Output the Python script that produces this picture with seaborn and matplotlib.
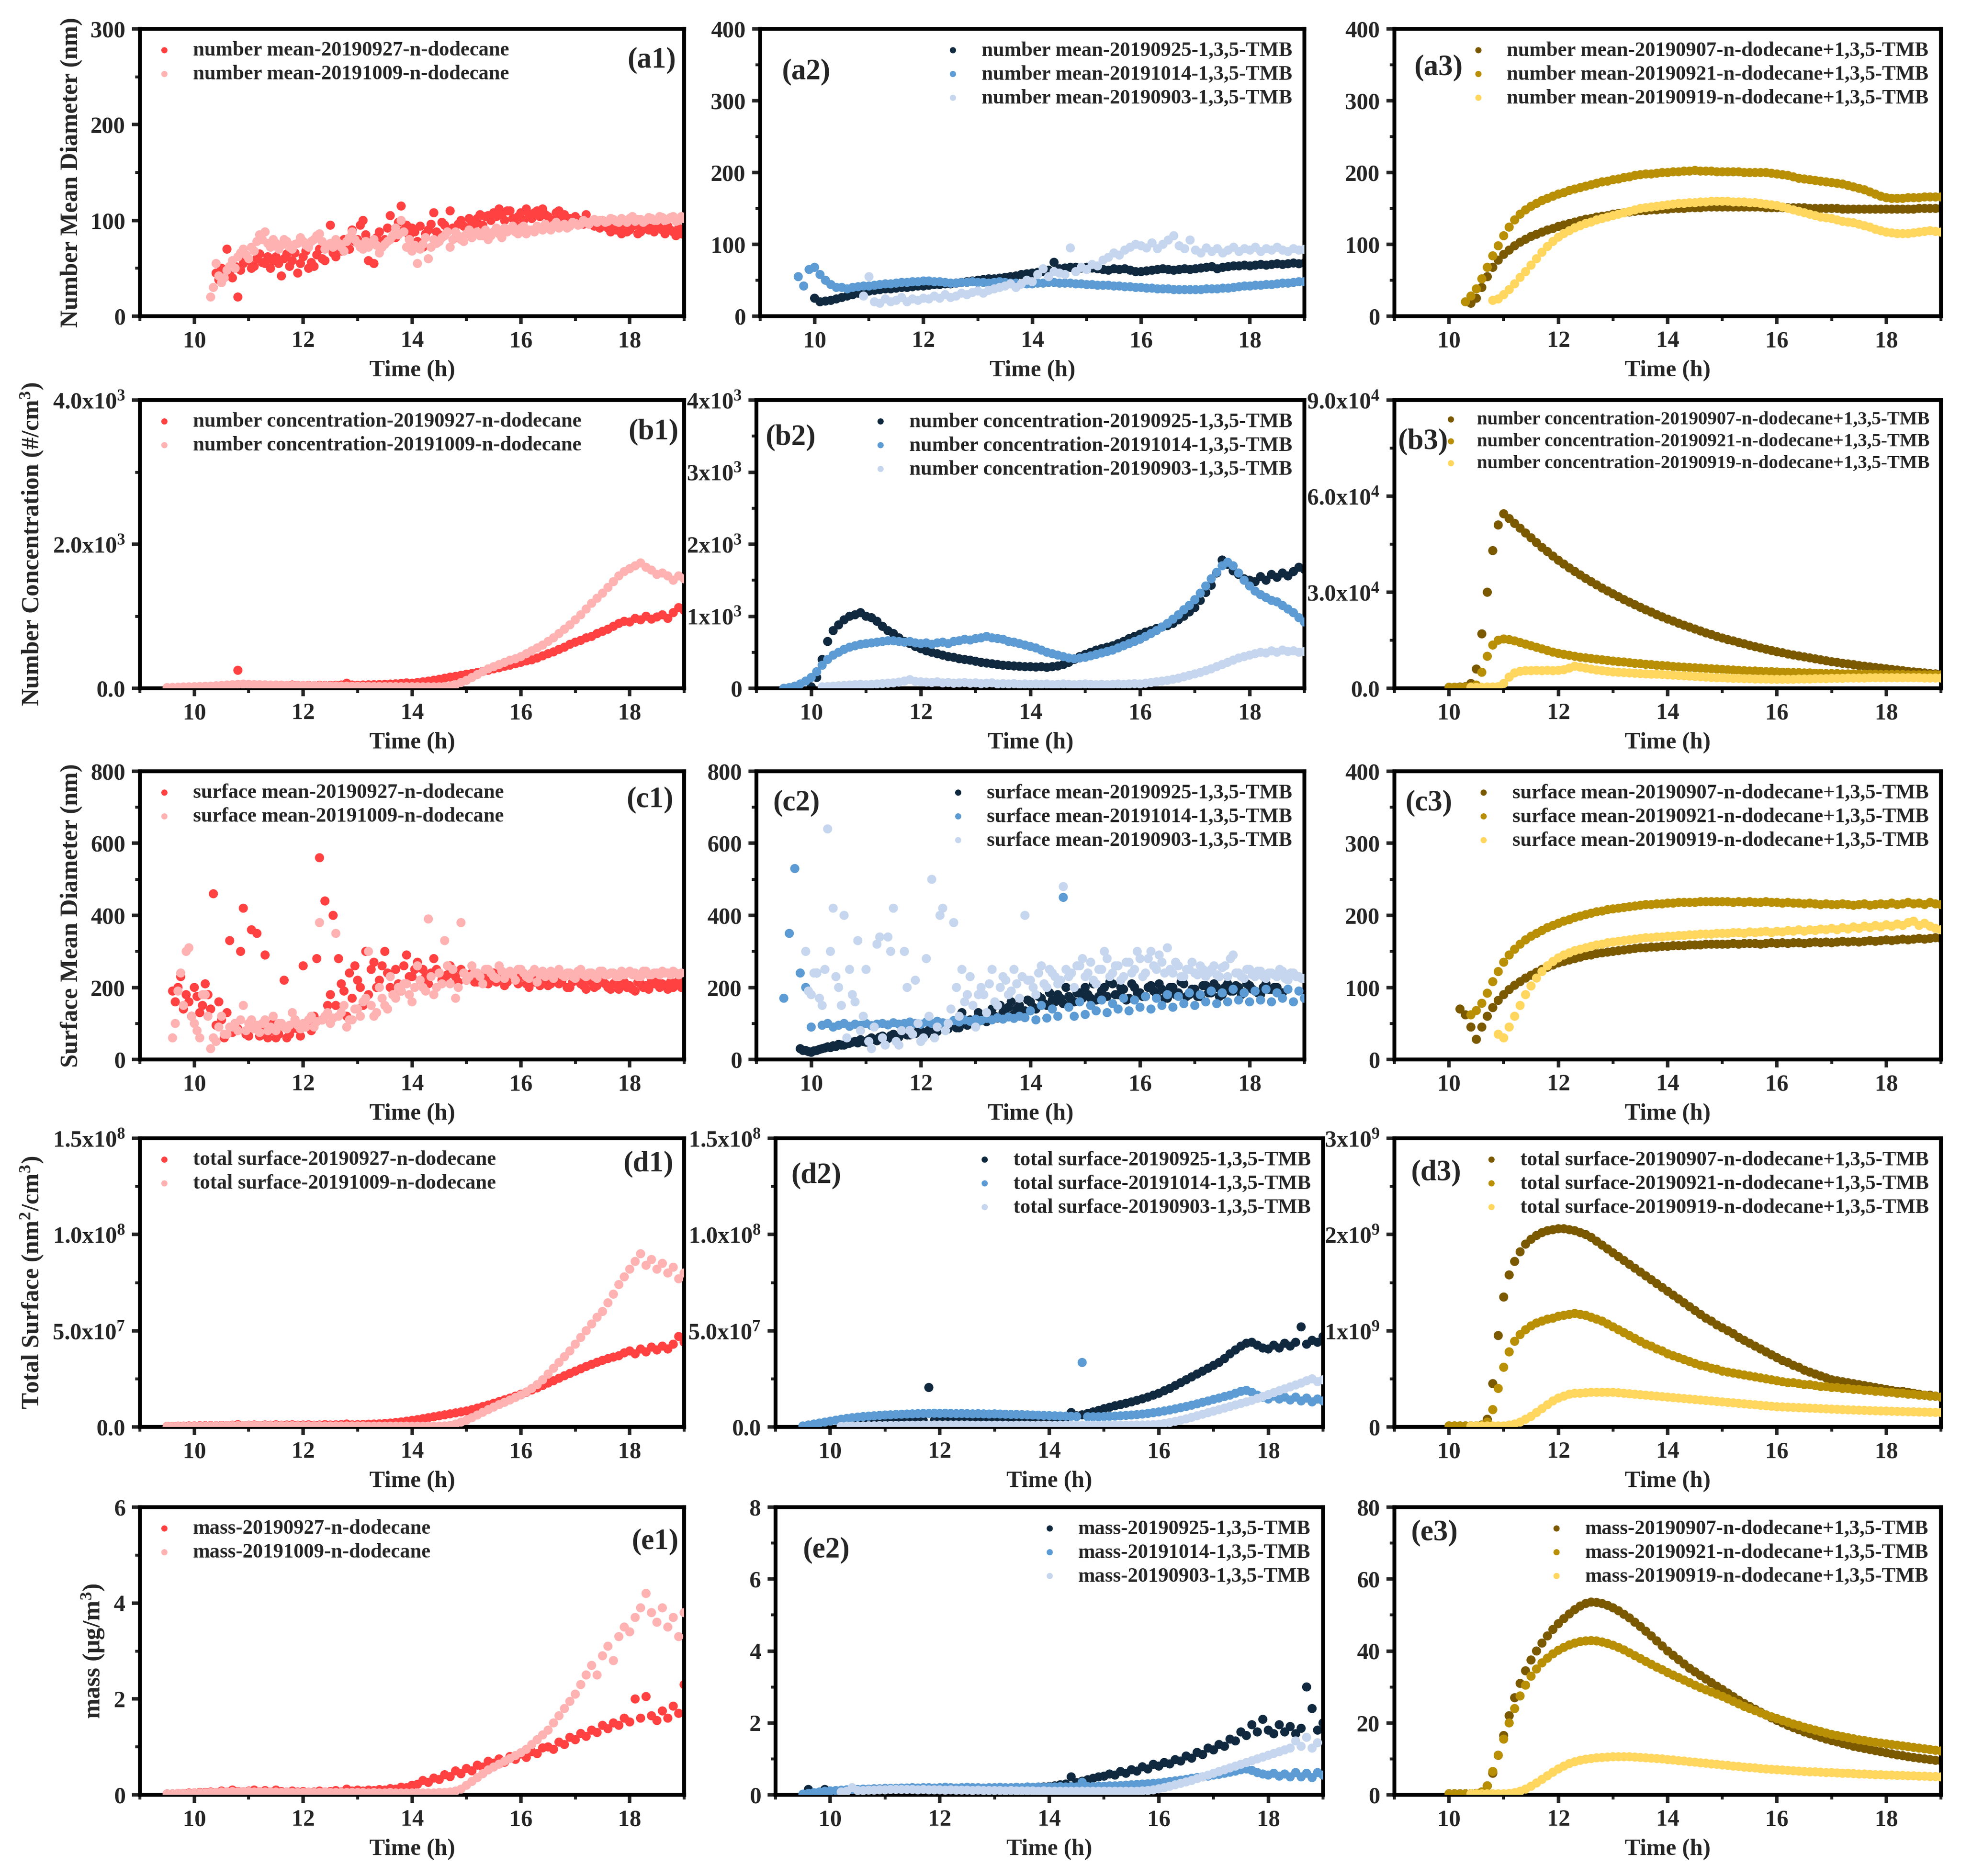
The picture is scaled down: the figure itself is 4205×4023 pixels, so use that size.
import numpy as np
import matplotlib
matplotlib.use('Agg')
import matplotlib.pyplot as plt
from matplotlib.ticker import FixedLocator, FixedFormatter, AutoMinorLocator, MultipleLocator
import seaborn as sns

# ---------------- data ----------------
STEP = 0.1         # sampling interval in hours (most runs)
STEP_FINE = 0.05   # sampling interval of the densely scanned runs

ROW_PREFIX = ['number mean', 'number concentration', 'surface mean', 'total surface', 'mass']
TAGS_C1 = ['20190927-n-dodecane', '20191009-n-dodecane']
TAGS_C2 = ['20190925-1,3,5-TMB', '20191014-1,3,5-TMB', '20190903-1,3,5-TMB']
TAGS_C3 = ['20190907-n-dodecane+1,3,5-TMB', '20190921-n-dodecane+1,3,5-TMB', '20190919-n-dodecane+1,3,5-TMB']
COLORS_C1 = ['#FF4141', '#FFB2B2']
COLORS_C2 = ['#10293F', '#5C9BD3', '#C6D6EE']
COLORS_C3 = ['#7A5900', '#B88F05', '#FFD65E']
PANEL_IDS = [['(a1)', '(a2)', '(a3)'], ['(b1)', '(b2)', '(b3)'], ['(c1)', '(c2)', '(c3)'],
             ['(d1)', '(d2)', '(d3)'], ['(e1)', '(e2)', '(e3)']]
Y_LABELS = ['Number Mean Diameter (nm)', 'Number Concentration (#/cm$^{3}$)',
            'Surface Mean Diameter (nm)', 'Total Surface (nm$^{2}$/cm$^{3}$)', 'mass (\u03bcg/m$^{3}$)']

# units of stored numbers
UNIT_B3 = 1e3
UNIT_D12 = 1e6
UNIT_D3 = 1e8

# ---- row a : number mean diameter (nm)
START_A1 = [10.4, 10.3]
A1_927 = [45, 38, 50, 48, 70, 44, 40, 52, 20, 48, 55, 60, 58, 50, 52, 60, 65, 56, 55, 62, 50, 58, 62, 55, 42, 60, 65,
          52, 58, 66, 45, 55, 62, 68, 50, 56, 52, 64, 70, 60, 58, 72, 95, 66, 62, 74, 68, 80, 75, 70, 90, 78, 80, 95,
          100, 85, 58, 78, 55, 82, 88, 76, 80, 92, 105, 84, 82, 98, 115, 90, 95, 84, 92, 88, 78, 94, 72, 86, 90, 96,
          108, 88, 85, 98, 95, 90, 110, 92, 82, 96, 100, 94, 92, 102, 98, 96, 102, 106, 95, 104, 105, 100, 108, 104,
          112, 106, 100, 110, 110, 102, 96, 104, 108, 100, 112, 106, 102, 108, 110, 104, 112, 106, 104, 100, 100, 108,
          110, 102, 106, 100, 102, 98, 104, 100, 100, 96, 106, 98, 98, 94, 96, 92, 100, 94, 92, 88, 96, 90, 90, 86, 94,
          88, 90, 94, 95, 86, 88, 92, 94, 90, 92, 88, 96, 92, 90, 86, 94, 90, 88, 84, 92, 86, 85]
A1_1009 = [20, 30, 55, 42, 35, 40, 48, 52, 58, 50, 62, 66, 70, 64, 60, 72, 68, 78, 85, 80, 88, 76, 72, 80, 76, 70, 74,
           80, 78, 72, 70, 75, 76, 82, 78, 74, 72, 78, 80, 84, 86, 78, 70, 74, 76, 72, 80, 76, 72, 68, 78, 82, 88, 80,
           76, 72, 70, 78, 72, 76, 80, 74, 66, 72, 75, 78, 80, 84, 92, 85, 100, 88, 72, 80, 68, 74, 55, 70, 75, 82, 60,
           72, 80, 76, 78, 82, 84, 88, 72, 80, 88, 84, 80, 78, 86, 90, 82, 86, 88, 84, 84, 90, 80, 84, 88, 92, 86, 82,
           92, 88, 90, 94, 88, 86, 92, 94, 86, 90, 90, 88, 94, 92, 90, 96, 92, 90, 95, 98, 92, 94, 96, 92, 94, 98, 97,
           95, 96, 100, 98, 96, 99, 101, 98, 100, 100, 98, 99, 102, 101, 99, 98, 102, 100, 98, 102, 104, 99, 101, 101,
           98, 100, 103, 102, 100, 100, 104, 103, 100, 101, 103, 104, 99, 100, 104, 102]
START_A2 = [10.0, 9.7, 10.9]
A2_925 = [25, 20, 21, 22, 24, 26, 28, 30, 32, 34, 35, 36, 37, 38, 38, 39, 40, 40, 41, 42, 42, 43, 44, 44, 45, 45, 46,
          47, 48, 49, 50, 51, 52, 52, 53, 54, 55, 56, 58, 59, 60, 61, 62, 64, 75, 66, 67, 68, 68, 67, 68, 67, 66, 65,
          64, 66, 65, 66, 64, 62, 62, 63, 64, 65, 66, 65, 64, 65, 66, 65, 66, 67, 68, 69, 66, 68, 69, 70, 70, 71, 70,
          71, 72, 71, 72, 73, 72, 73, 74, 73, 74]
A2_1014 = [55, 42, 65, 68, 58, 50, 44, 40, 40, 38, 40, 41, 42, 42, 43, 44, 45, 45, 46, 47, 47, 48, 48, 49, 49, 48, 48,
           47, 46, 46, 47, 47, 48, 47, 47, 46, 47, 48, 47, 46, 46, 45, 45, 45, 46, 46, 47, 47, 46, 46, 46, 45, 45, 44,
           44, 43, 43, 43, 42, 42, 41, 41, 40, 40, 39, 39, 38, 38, 38, 37, 37, 37, 37, 37, 37, 38, 38, 38, 39, 39, 40,
           41, 42, 42, 43, 43, 44, 44, 45, 46, 46, 47, 48, 48]
A2_903 = [28, 55, 20, 18, 24, 20, 22, 26, 20, 24, 22, 25, 24, 28, 25, 30, 26, 28, 32, 30, 33, 35, 32, 36, 38, 40, 42,
          45, 40, 45, 50, 48, 58, 66, 55, 62, 60, 58, 95, 62, 68, 65, 72, 70, 78, 82, 88, 85, 92, 96, 100, 98, 95, 102,
          94, 100, 106, 112, 98, 94, 106, 92, 88, 95, 90, 94, 88, 92, 96, 90, 94, 92, 96, 90, 94, 92, 96, 92, 90, 94,
          92, 93]
START_A3 = [10.4, 10.3, 10.8]
A3_907 = [18, 25, 40, 55, 68, 78, 86, 92, 98, 103, 107, 111, 114, 117, 120, 122, 125, 127, 129, 131, 133, 135, 136,
          138, 139, 140, 142, 143, 144, 145, 146, 147, 147, 148, 148, 149, 149, 150, 150, 150, 151, 151, 151, 152, 152,
          152, 152, 152, 152, 152, 152, 152, 152, 152, 151, 151, 151, 151, 151, 151, 151, 151, 150, 150, 150, 150, 150,
          150, 149, 149, 149, 149, 149, 149, 149, 149, 149, 149, 149, 149, 149, 149, 150, 150, 150, 150, 150]
A3_921 = [20, 28, 38, 52, 68, 84, 98, 112, 124, 134, 142, 148, 153, 157, 161, 164, 167, 170, 172, 175, 177, 179, 181,
          183, 185, 187, 188, 190, 191, 193, 194, 196, 197, 198, 198, 199, 200, 200, 201, 201, 202, 202, 203, 202, 202,
          202, 201, 201, 201, 201, 201, 200, 200, 200, 200, 200, 199, 198, 197, 196, 194, 192, 191, 190, 189, 188, 187,
          186, 185, 184, 182, 180, 178, 176, 173, 170, 167, 165, 164, 164, 164, 165, 165, 165, 166, 166, 166, 166]
A3_919 = [22, 24, 30, 37, 45, 54, 62, 71, 80, 89, 97, 104, 110, 115, 119, 123, 126, 129, 131, 134, 136, 138, 140, 142,
          144, 146, 148, 150, 151, 152, 153, 154, 155, 156, 157, 157, 158, 158, 159, 159, 160, 160, 160, 160, 159, 159,
          159, 158, 158, 157, 156, 155, 154, 152, 150, 148, 146, 144, 142, 140, 138, 137, 136, 134, 132, 131, 130, 128,
          126, 124, 121, 119, 117, 116, 115, 115, 115, 116, 117, 118, 119, 118, 117]

# ---- row b : number concentration (#/cm3)
START_B1 = [9.5, 9.5]
B1_927 = [5, 8, 6, 10, 12, 15, 18, 20, 22, 25, 28, 30, 32, 250, 35, 38, 36, 40, 38, 36, 40, 42, 38, 45, 40, 38, 40,
          36, 42, 38, 40, 42, 45, 70, 45, 42, 45, 48, 50, 52, 55, 58, 62, 68, 75, 70, 80, 90, 100, 112, 125, 140, 155,
          165, 180, 195, 205, 220, 235, 250, 270, 285, 305, 320, 340, 360, 380, 395, 420, 450, 480, 505, 540, 570, 610,
          640, 665, 700, 720, 760, 790, 820, 860, 900, 930, 920, 970, 950, 1000, 960, 990, 1020, 970, 1050, 1120, 1080]
B1_1009 = [10, 12, 15, 18, 20, 22, 25, 28, 30, 35, 40, 45, 50, 55, 58, 55, 52, 50, 48, 45, 45, 42, 40, 40, 38, 38, 36,
           35, 35, 33, 32, 32, 30, 30, 28, 28, 27, 26, 25, 25, 24, 24, 23, 22, 22, 22, 21, 20, 20, 20, 20, 22, 30, 50,
           80, 110, 150, 190, 230, 270, 300, 330, 360, 390, 410, 440, 480, 520, 560, 600, 650, 700, 760, 820, 880, 950,
           1020, 1100, 1180, 1250, 1320, 1400, 1480, 1560, 1620, 1660, 1700, 1740, 1680, 1640, 1580, 1600, 1560, 1500,
           1560, 1520]
START_B2 = [10.0, 9.5, 10.2]
B2_925 = [20, 150, 400, 650, 800, 880, 950, 1000, 1020, 1050, 1000, 980, 930, 860, 800, 760, 700, 650, 620, 580, 550,
          520, 500, 480, 460, 440, 430, 410, 400, 390, 375, 360, 350, 340, 330, 320, 315, 310, 305, 300, 300, 295, 300,
          290, 300, 310, 330, 360, 400, 440, 470, 500, 530, 550, 570, 590, 620, 650, 690, 720, 750, 780, 800, 830, 850,
          870, 900, 950, 1000, 1060, 1120, 1220, 1330, 1430, 1600, 1780, 1720, 1630, 1580, 1520, 1500, 1480, 1550, 1500,
          1580, 1540, 1600, 1560, 1620, 1680, 1650]
B2_1014 = [0, 10, 30, 60, 100, 150, 230, 320, 400, 460, 500, 540, 570, 590, 610, 620, 630, 640, 650, 660, 660, 650,
           640, 650, 630, 620, 630, 610, 630, 640, 620, 650, 660, 680, 670, 690, 700, 720, 700, 690, 680, 650, 640, 620,
           600, 580, 560, 530, 500, 480, 460, 440, 420, 410, 420, 430, 450, 470, 490, 510, 530, 560, 590, 620, 650, 680,
           720, 760, 800, 850, 900, 960, 1020, 1090, 1150, 1230, 1320, 1420, 1520, 1610, 1700, 1750, 1700, 1600, 1500,
           1420, 1350, 1300, 1260, 1220, 1200, 1150, 1100, 1050, 980, 920]
B2_903 = [20, 25, 30, 35, 40, 45, 50, 55, 50, 55, 60, 65, 70, 75, 85, 100, 120, 95, 90, 85, 80, 90, 75, 80, 70, 75,
          80, 70, 75, 65, 70, 75, 60, 65, 60, 65, 55, 60, 55, 60, 55, 60, 50, 55, 60, 55, 50, 55, 60, 55, 50, 55, 50,
          55, 60, 55, 60, 65, 60, 70, 80, 90, 100, 110, 125, 140, 160, 180, 200, 220, 245, 270, 300, 330, 360, 390, 420,
          440, 460, 480, 500, 490, 520, 500, 530, 510, 520, 500, 510]
START_B3 = [10.0, 10.0, 10.4]
B3_907 = [0.3, 0.3, 0.4, 0.5, 1.5, 6, 17, 30, 43, 51, 54.5, 53, 51.5, 50, 48.5, 47, 45.5, 44, 42.7, 41.3, 40, 38.8,
          37.6, 36.5, 35.4, 34.3, 33.3, 32.3, 31.3, 30.4, 29.5, 28.6, 27.7, 26.9, 26.1, 25.3, 24.5, 23.8, 23, 22.3,
          21.6, 21, 20.3, 19.7, 19.1, 18.5, 17.9, 17.3, 16.8, 16.2, 15.7, 15.2, 14.8, 14.3, 13.9, 13.4, 13, 12.6, 12.2,
          11.8, 11.4, 11.1, 10.7, 10.4, 10.1, 9.8, 9.5, 9.2, 8.9, 8.6, 8.3, 8.1, 7.8, 7.6, 7.4, 7.1, 6.9, 6.7, 6.5,
          6.3, 6.1, 5.9, 5.7, 5.5, 5.3, 5.1, 5, 4.8, 4.6, 4.5, 4.4]
B3_921 = [0.3, 0.3, 0.3, 0.4, 0.5, 1, 5, 10, 13.5, 15, 15.4, 15.2, 14.8, 14.3, 13.8, 13.3, 12.8, 12.3, 11.8, 11.3,
          10.9, 10.6, 10.3, 10, 9.7, 9.5, 9.3, 9.1, 8.9, 8.7, 8.5, 8.3, 8.2, 8, 7.8, 7.7, 7.5, 7.4, 7.2, 7.1, 7, 6.8,
          6.7, 6.6, 6.5, 6.4, 6.3, 6.2, 6.1, 6, 5.9, 5.8, 5.7, 5.6, 5.5, 5.4, 5.4, 5.3, 5.2, 5.2, 5.1, 5, 5, 4.9, 4.9,
          4.8, 4.8, 4.7, 4.7, 4.6, 4.6, 4.6, 4.5, 4.5, 4.5, 4.4, 4.4, 4.4, 4.4, 4.3, 4.3, 4.3, 4.3, 4.3, 4.2, 4.2, 4.2,
          4.2, 4.2, 4.2, 4.2]
B3_919 = [0.3, 0.3, 0.3, 0.4, 0.4, 0.5, 1.5, 3.5, 4.8, 5.3, 5.5, 5.5, 5.6, 5.5, 5.6, 5.5, 5.6, 5.8, 6.3, 6.9, 6.6,
          6.3, 6, 5.7, 5.5, 5.3, 5.1, 5, 4.9, 4.8, 4.7, 4.6, 4.5, 4.4, 4.4, 4.3, 4.2, 4.1, 4, 3.9, 3.8, 3.7, 3.6, 3.5,
          3.4, 3.3, 3.3, 3.2, 3.1, 3.1, 3, 3, 2.9, 2.9, 2.9, 2.8, 2.8, 2.8, 2.8, 2.8, 2.9, 2.9, 2.9, 3, 3, 3, 3.1, 3.1,
          3.1, 3.2, 3.2, 3.2, 3.2, 3.3, 3.3, 3.3, 3.3, 3.3, 3.3, 3.3, 3.3, 3.3, 3.3, 3.2, 3.2, 3.2, 3.2]

# ---- row c : surface mean diameter (nm)
START_C1 = [9.6, 9.6]
C1_927 = [190, 160, 200, 230, 140, 180, 160, 120, 200, 175, 130, 150, 210, 180, 140, 460, 95, 160, 110, 60, 130, 330,
          75, 100, 85, 300, 420, 70, 65, 360, 90, 350, 65, 80, 290, 60, 80, 100, 60, 70, 95, 220, 60, 70, 85, 110, 85,
          65, 260, 90, 100, 80, 120, 280, 560, 110, 440, 150, 180, 400, 150, 280, 210, 190, 120, 240, 170, 260, 220,
          200, 150, 300, 180, 250, 270, 200, 220, 260, 300, 240, 200, 180, 250, 210, 190, 260, 290, 230, 230, 250, 270,
          220, 250, 230, 210, 240, 280, 250, 240, 220, 220, 235, 260, 245, 230, 215, 250, 240, 220, 225, 240, 215, 215,
          230, 235, 225, 210, 220, 240, 215, 225, 230, 205, 215, 230, 225, 220, 210, 240, 230, 210, 200, 225, 215, 215,
          205, 235, 220, 205, 210, 220, 230, 210, 215, 230, 200, 200, 215, 220, 225, 210, 205, 195, 220, 215, 200, 205,
          215, 220, 210, 200, 195, 210, 220, 195, 205, 215, 200, 205, 195, 190, 215, 210, 200, 205, 195, 220, 210,
          215, 200, 210, 205, 195, 215, 200, 210, 220, 200, 205, 210]
C1_1009 = [60, 100, 190, 240, 150, 300, 310, 120, 100, 80, 60, 180, 180, 120, 30, 60, 50, 90, 120, 70, 70, 90, 90, 100,
           80, 110, 150, 80, 100, 110, 85, 95, 75, 100, 110, 80, 90, 120, 80, 100, 100, 90, 85, 95, 130, 110, 95, 85,
           100, 90, 110, 120, 90, 105, 380, 110, 120, 130, 100, 115, 350, 120, 130, 150, 90, 110, 110, 140, 140, 120,
           160, 170, 300, 150, 120, 130, 200, 170, 150, 140, 230, 180, 170, 200, 190, 210, 210, 180, 160, 200, 260, 220,
           200, 190, 390, 230, 180, 200, 240, 210, 330, 260, 210, 250, 170, 200, 380, 240, 220, 230, 260, 240, 240, 230,
           210, 250, 250, 240, 230, 225, 260, 245, 225, 240, 245, 235, 220, 250, 250, 240, 230, 225, 240, 250, 215, 235,
           245, 230, 235, 245, 225, 240, 250, 235, 230, 240, 240, 230, 225, 245, 250, 235, 230, 240, 240, 230, 225, 245,
           245, 235, 235, 240, 240, 230, 230, 245, 235, 240, 245, 235, 240, 230, 230, 245, 245, 235, 235, 240, 240, 235,
           245, 240, 240, 235, 245, 240, 235, 240]
START_C2 = [9.8, 9.5, 9.9]
C2_925 = [30, 25, 25, 22, 20, 24, 25, 28, 30, 32, 35, 33, 38, 36, 42, 40, 40, 44, 45, 48, 50, 46, 55, 50, 48, 55, 60,
          56, 52, 62, 65, 58, 58, 66, 70, 64, 62, 72, 75, 68, 68, 74, 72, 78, 80, 74, 70, 82, 85, 80, 78, 88, 90, 84,
          85, 100, 95, 88, 88, 130, 100, 95, 110, 105, 95, 130, 120, 110, 105, 118, 140, 120, 115, 150, 130, 125, 145,
          160, 125, 140, 150, 135, 135, 165, 160, 145, 140, 175, 170, 155, 150, 185, 165, 160, 180, 170, 155, 200, 175,
          165, 160, 185, 185, 170, 200, 180, 170, 210, 165, 175, 190, 200, 175, 215, 210, 180, 180, 200, 195, 165, 170,
          210, 200, 185, 185, 175, 175, 200, 205, 190, 180, 210, 195, 170, 170, 200, 200, 180, 185, 215, 210, 175, 180,
          195, 195, 175, 175, 205, 205, 185, 185, 210, 200, 175, 180, 200, 210, 190, 190, 205, 200, 180, 185, 210, 205,
          195, 190, 185, 180, 200, 210, 195, 195, 200, 200, 185, 185]
C2_1014 = [170, 350, 530, 240, 200, 90, 240, 95, 100, 90, 95, 100, 92, 98, 95, 100, 94, 98, 100, 96, 102, 98, 100, 104,
           100, 98, 104, 100, 106, 102, 100, 108, 104, 110, 106, 112, 108, 114, 110, 116, 112, 118, 114, 120, 116, 135,
           110, 150, 115, 140, 120, 450, 145, 120, 160, 125, 150, 135, 165, 130, 155, 140, 170, 135, 165, 145, 175, 140,
           170, 150, 180, 145, 175, 155, 185, 150, 180, 160, 190, 155, 185, 160, 195, 165, 185, 160, 190, 165, 195, 160,
           185, 170, 195, 160, 190, 170]
C2_903 = [300, 190, 180, 240, 240, 170, 150, 250, 640, 300, 420, 230, 200, 150, 400, 60, 250, 180, 160, 330, 80, 120,
          250, 50, 30, 90, 320, 340, 60, 40, 340, 300, 420, 50, 40, 80, 300, 200, 80, 70, 220, 100, 50, 60, 280, 120,
          500, 60, 90, 400, 420, 80, 100, 140, 380, 200, 120, 250, 160, 180, 230, 150, 90, 180, 200, 180, 130, 210, 250,
          160, 150, 200, 230, 220, 180, 190, 250, 210, 170, 230, 400, 220, 220, 200, 180, 240, 260, 210, 200, 250, 240,
          230, 210, 220, 480, 250, 230, 240, 200, 260, 260, 280, 230, 240, 270, 220, 210, 250, 250, 300, 280, 230, 240,
          260, 260, 220, 230, 270, 270, 240, 250, 300, 280, 230, 240, 280, 300, 260, 250, 290, 270, 240, 310, 250, 240,
          270, 260, 230, 230, 250, 250, 270, 240, 235, 260, 250, 230, 240, 250, 260, 235, 230, 255, 260, 230, 280, 290,
          240, 240, 230, 225, 250, 250, 235, 230, 245, 245, 230, 225, 240, 240, 235, 230, 250, 245, 225, 220, 240, 240,
          230, 230, 225, 225]
START_C3 = [10.2, 10.4, 10.9]
C3_907 = [70, 62, 45, 28, 45, 60, 72, 82, 90, 97, 103, 108, 113, 117, 121, 125, 128, 131, 134, 136, 138, 140, 142, 144,
          145, 147, 148, 149, 150, 151, 152, 153, 154, 155, 155, 156, 156, 157, 157, 158, 158, 158, 159, 159, 159, 160,
          160, 160, 160, 160, 161, 160, 161, 161, 161, 160, 161, 162, 161, 162, 161, 162, 162, 161, 162, 163, 162, 163,
          162, 163, 164, 163, 164, 163, 164, 165, 164, 165, 166, 165, 166, 167, 166, 167, 168, 167, 168, 169, 168]
C3_921 = [62, 68, 78, 92, 108, 122, 135, 145, 153, 160, 166, 171, 175, 179, 183, 186, 189, 192, 194, 197, 199, 201, 203,
          205, 206, 208, 209, 210, 211, 212, 213, 214, 215, 215, 216, 216, 217, 217, 218, 218, 218, 218, 219, 219, 219,
          219, 219, 219, 218, 219, 218, 219, 218, 218, 219, 218, 218, 217, 218, 217, 217, 216, 217, 216, 215, 216, 215,
          215, 216, 215, 214, 215, 216, 214, 215, 216, 215, 217, 215, 216, 218, 216, 217, 215, 218, 216, 215]
C3_919 = [35, 30, 45, 60, 75, 90, 102, 113, 122, 130, 136, 141, 145, 148, 151, 153, 155, 157, 159, 160, 162, 163, 164,
          165, 166, 167, 168, 169, 169, 170, 170, 171, 171, 172, 172, 173, 173, 174, 174, 174, 175, 175, 175, 176, 176,
          175, 177, 176, 177, 178, 176, 178, 177, 179, 178, 180, 178, 180, 179, 181, 180, 182, 180, 183, 181, 184, 182,
          185, 183, 186, 184, 187, 185, 188, 186, 190, 192, 186, 189, 185, 182, 180]

# ---- row d : total surface (nm2/cm3)
START_D1 = [9.5, 9.5]
D1_927 = [0.3, 0.3, 0.4, 0.4, 0.5, 0.5, 0.6, 0.6, 0.7, 0.6, 0.8, 0.7, 0.9, 1.2, 0.8, 0.9, 1.0, 0.8, 1.0, 0.9, 1.1,
          0.9, 1.0, 1.1, 0.9, 1.0, 1.1, 0.9, 1.0, 1.2, 1.0, 1.1, 1.2, 1.5, 1.1, 1.2, 1.3, 1.4, 1.5, 1.6, 1.8, 2.0, 2.3,
          2.6, 3.0, 3.4, 3.8, 4.3, 4.8, 5.3, 5.8, 6.3, 6.8, 7.3, 7.8, 8.3, 9.0, 9.8, 10.6, 11.4, 12.3, 13.2, 14.1, 15.0,
          16.0, 17.0, 18.0, 19.2, 20.3, 21.5, 22.8, 24.0, 25.3, 26.6, 27.8, 29.0, 30.2, 31.4, 32.5, 33.6, 34.6, 35.5,
          36.3, 37.0, 38.5, 39.5, 38.0, 40.5, 39.0, 41.5, 40.0, 42.0, 40.5, 43.0, 47.0, 44.0]
D1_1009 = [0.2, 0.2, 0.3, 0.3, 0.3, 0.4, 0.4, 0.4, 0.5, 0.5, 0.6, 0.6, 0.7, 0.7, 0.8, 0.8, 0.8, 0.7, 0.8, 0.7, 0.7,
           0.7, 0.6, 0.7, 0.6, 0.6, 0.6, 0.6, 0.6, 0.5, 0.5, 0.5, 0.5, 0.5, 0.5, 0.5, 0.5, 0.4, 0.4, 0.4, 0.4, 0.4, 0.4,
           0.4, 0.4, 0.4, 0.4, 0.4, 0.4, 0.4, 0.4, 0.5, 0.8, 1.5, 2.5, 3.5, 4.8, 6.2, 7.6, 9.0, 10.3, 11.6, 12.8, 14.0,
           15.3, 16.6, 18.2, 20.0, 22.0, 24.5, 27.5, 30.5, 33.5, 36.5, 39.5, 43.0, 46.5, 50.0, 53.5, 57.0, 60.0, 64.5,
           69.0, 74.0, 78.0, 82.0, 86.0, 90.0, 84.0, 87.0, 82.0, 85.0, 80.0, 83.0, 77.0, 80.0]
START_D2 = [10.5, 9.5, 10.2]
D2_925 = [1.5, 2.0, 2.2, 2.5, 2.6, 2.8, 3.0, 2.9, 3.2, 3.0, 3.3, 3.1, 3.2, 20.5, 3.3, 3.2, 3.4, 3.1, 3.3, 3.0, 3.2,
          3.1, 3.3, 3.0, 3.2, 3.1, 3.0, 3.2, 3.0, 3.1, 3.0, 3.2, 3.1, 3.3, 3.4, 3.6, 3.9, 4.3, 4.8, 7.5, 5.8, 6.3, 7.0,
          7.8, 8.6, 9.5, 10.2, 11.0, 11.6, 12.3, 13.0, 13.8, 14.6, 15.5, 16.5, 17.5, 18.8, 20.0, 21.5, 23.0, 24.5, 26.0,
          27.5, 29.0, 30.5, 32.0, 33.5, 35.5, 38.0, 40.0, 42.0, 43.5, 44.0, 42.5, 41.0, 40.5, 42.5, 41.0, 43.5, 42.0,
          44.0, 52.0, 43.0, 45.0, 44.0, 47.0]
D2_1014 = [0.5, 1.0, 1.5, 2.0, 2.5, 3.0, 3.5, 4.0, 4.4, 4.8, 5.1, 5.4, 5.6, 5.8, 6.0, 6.2, 6.3, 6.5, 6.6, 6.7, 6.8,
           6.9, 7.0, 7.0, 7.1, 7.0, 7.1, 7.0, 6.9, 7.0, 6.9, 6.8, 6.9, 6.8, 6.7, 6.8, 6.7, 6.6, 6.5, 6.5, 6.4, 6.3, 6.2,
           6.1, 6.0, 5.9, 5.8, 5.7, 5.6, 5.5, 5.4, 33.5, 5.3, 5.3, 5.3, 5.4, 5.5, 5.6, 5.8, 6.0, 6.2, 6.4, 6.7, 7.0, 7.4,
           7.8, 8.3, 8.8, 9.4, 10.0, 10.6, 11.3, 12.0, 12.8, 13.5, 14.3, 15.0, 15.8, 16.5, 17.5, 18.5, 19.0, 18.0, 16.5,
           15.5, 14.5, 16.0, 14.5, 15.5, 14.0, 15.5, 13.5, 15.0, 13.0, 14.5, 13.5]
D2_903 = [0.3, 0.4, 0.4, 0.5, 0.5, 0.6, 0.6, 0.7, 0.7, 0.8, 0.8, 0.8, 0.9, 0.9, 0.9, 1.0, 1.0, 1.0, 1.0, 1.0, 1.0,
          1.0, 1.0, 1.0, 0.9, 0.9, 0.9, 0.9, 0.9, 0.9, 0.9, 0.8, 0.9, 0.9, 0.9, 0.8, 0.9, 0.9, 0.9, 0.8, 0.9, 0.9, 0.9,
          0.8, 0.9, 0.9, 0.9, 0.8, 0.9, 0.9, 0.9, 0.9, 0.9, 0.9, 1.0, 1.0, 1.1, 1.2, 1.4, 1.8, 2.3, 2.9, 3.5, 4.2, 5.0,
          5.8, 6.6, 7.4, 8.2, 9.0, 9.8, 10.6, 11.4, 12.2, 13.0, 13.8, 14.8, 15.8, 16.8, 17.8, 18.8, 19.8, 20.8, 21.8,
          22.8, 24.0, 25.0, 23.5, 24.5]
START_D3 = [10.0, 10.0, 10.4]
D3_907 = [0.1, 0.1, 0.1, 0.1, 0.1, 0.1, 0.2, 0.8, 4.5, 9.5, 13.5, 15.8, 17.2, 18.2, 19.0, 19.5, 19.9, 20.2, 20.4, 20.5,
          20.6, 20.6, 20.5, 20.4, 20.2, 20.0, 19.7, 19.3, 18.9, 18.5, 18.1, 17.7, 17.3, 16.9, 16.5, 16.1, 15.7, 15.3,
          14.9, 14.5, 14.1, 13.7, 13.3, 12.9, 12.5, 12.1, 11.7, 11.3, 11.0, 10.6, 10.3, 10.0, 9.7, 9.3, 9.0, 8.7, 8.4,
          8.1, 7.8, 7.5, 7.2, 6.9, 6.7, 6.4, 6.2, 5.9, 5.7, 5.5, 5.3, 5.1, 4.9, 4.8, 4.7, 4.6, 4.5, 4.4, 4.3, 4.2, 4.1,
          4.0, 3.9, 3.8, 3.7, 3.7, 3.6, 3.5, 3.4, 3.3, 3.3, 3.2, 3.1]
D3_921 = [0.1, 0.1, 0.1, 0.1, 0.1, 0.1, 0.2, 0.5, 1.8, 4.0, 6.2, 7.8, 8.9, 9.6, 10.1, 10.5, 10.8, 11.0, 11.2, 11.3,
          11.5, 11.6, 11.7, 11.8, 11.7, 11.6, 11.4, 11.2, 11.0, 10.7, 10.4, 10.1, 9.8, 9.5, 9.2, 8.9, 8.6, 8.4, 8.1,
          7.9, 7.6, 7.4, 7.2, 7.0, 6.8, 6.6, 6.4, 6.3, 6.1, 6.0, 5.8, 5.7, 5.6, 5.5, 5.4, 5.3, 5.2, 5.1, 5.0, 4.9, 4.8,
          4.7, 4.6, 4.6, 4.5, 4.4, 4.4, 4.3, 4.2, 4.2, 4.1, 4.1, 4.0, 4.0, 3.9, 3.9, 3.8, 3.8, 3.7, 3.7, 3.6, 3.6, 3.5,
          3.5, 3.4, 3.4, 3.3, 3.3, 3.2, 3.2, 3.1]
D3_919 = [0.1, 0.1, 0.1, 0.1, 0.1, 0.1, 0.1, 0.2, 0.3, 0.5, 0.8, 1.1, 1.5, 1.9, 2.3, 2.7, 3.0, 3.2, 3.4, 3.5, 3.5,
          3.55, 3.6, 3.6, 3.6, 3.6, 3.6, 3.55, 3.5, 3.45, 3.4, 3.35, 3.3, 3.25, 3.2, 3.15, 3.1, 3.05, 3.0, 2.95, 2.9,
          2.85, 2.8, 2.75, 2.7, 2.65, 2.6, 2.55, 2.5, 2.45, 2.4, 2.35, 2.3, 2.25, 2.2, 2.15, 2.1, 2.08, 2.05, 2.03, 2.0,
          1.98, 1.95, 1.93, 1.9, 1.88, 1.85, 1.83, 1.8, 1.78, 1.76, 1.74, 1.72, 1.7, 1.68, 1.66, 1.65, 1.63, 1.61, 1.6,
          1.58, 1.57, 1.55, 1.54, 1.52, 1.51, 1.5]

# ---- row e : mass (ug/m3)
START_E1 = [9.5, 9.5]
E1_927 = [0.02, 0.02, 0.03, 0.03, 0.04, 0.04, 0.05, 0.05, 0.06, 0.05, 0.08, 0.06, 0.1, 0.07, 0.06, 0.08, 0.1, 0.07,
          0.09, 0.06, 0.1, 0.07, 0.06, 0.08, 0.06, 0.07, 0.05, 0.06, 0.08, 0.06, 0.07, 0.09, 0.06, 0.12, 0.08, 0.1,
          0.08, 0.1, 0.09, 0.11, 0.1, 0.13, 0.12, 0.16, 0.15, 0.2, 0.22, 0.3, 0.26, 0.35, 0.32, 0.42, 0.38, 0.5, 0.44,
          0.55, 0.5, 0.62, 0.58, 0.7, 0.66, 0.75, 0.68, 0.8, 0.74, 0.85, 0.78, 0.9, 0.86, 0.98, 1.0, 0.95, 1.1, 1.05,
          1.2, 1.15, 1.28, 1.22, 1.35, 1.3, 1.45, 1.38, 1.5, 1.45, 1.6, 1.52, 2.0, 1.6, 2.05, 1.65, 1.55, 1.75, 1.6,
          1.85, 1.7, 2.3]
E1_1009 = [0.02, 0.02, 0.03, 0.03, 0.03, 0.04, 0.04, 0.04, 0.05, 0.05, 0.06, 0.06, 0.07, 0.06, 0.07, 0.07, 0.06,
           0.07, 0.06, 0.06, 0.06, 0.05, 0.06, 0.05, 0.05, 0.05, 0.06, 0.05, 0.05, 0.06, 0.05, 0.05, 0.05, 0.05, 0.05,
           0.05, 0.05, 0.04, 0.05, 0.04, 0.04, 0.05, 0.04, 0.04, 0.04, 0.04, 0.04, 0.04, 0.04, 0.04, 0.05, 0.05, 0.06,
           0.08, 0.12, 0.2, 0.28, 0.36, 0.44, 0.52, 0.58, 0.64, 0.7, 0.76, 0.82, 0.88, 0.95, 1.05, 1.15, 1.25, 1.35, 1.5,
           1.65, 1.8, 1.95, 2.1, 2.3, 2.5, 2.7, 2.5, 2.9, 3.1, 2.8, 3.3, 3.5, 3.4, 3.7, 3.9, 4.2, 3.8, 3.6, 3.9, 3.5,
           3.7, 3.3, 3.8]
START_E2 = [9.6, 9.5, 10.2]
E2_925 = [0.15, 0.05, 0.06, 0.15, 0.06, 0.07, 0.07, 0.08, 0.08, 0.09, 0.09, 0.1, 0.1, 0.1, 0.11, 0.11, 0.11, 0.12,
          0.12, 0.12, 0.13, 0.13, 0.16, 0.13, 0.13, 0.14, 0.14, 0.14, 0.14, 0.15, 0.15, 0.15, 0.15, 0.15, 0.16, 0.16,
          0.16, 0.17, 0.17, 0.18, 0.19, 0.2, 0.21, 0.22, 0.23, 0.25, 0.28, 0.3, 0.5, 0.34, 0.38, 0.42, 0.46, 0.5, 0.52,
          0.58, 0.55, 0.65, 0.6, 0.7, 0.66, 0.78, 0.72, 0.85, 0.8, 0.9, 0.86, 0.98, 0.94, 1.08, 1.02, 1.18, 1.12, 1.3,
          1.25, 1.4, 1.35, 1.55, 1.5, 1.75, 1.65, 1.95, 1.75, 2.1, 1.8, 1.7, 1.95, 1.75, 1.9, 1.7, 1.85, 3.0, 2.4, 1.8,
          2.0]
E2_1014 = [0.02, 0.04, 0.06, 0.08, 0.1, 0.11, 0.12, 0.13, 0.14, 0.15, 0.15, 0.16, 0.16, 0.17, 0.17, 0.18, 0.18, 0.18,
           0.19, 0.19, 0.2, 0.19, 0.2, 0.2, 0.19, 0.2, 0.21, 0.2, 0.19, 0.2, 0.21, 0.2, 0.2, 0.19, 0.2, 0.2, 0.21, 0.2,
           0.2, 0.21, 0.2, 0.22, 0.21, 0.22, 0.21, 0.22, 0.22, 0.23, 0.22, 0.23, 0.22, 0.35, 0.23, 0.23, 0.24, 0.24,
           0.25, 0.25, 0.26, 0.27, 0.28, 0.29, 0.3, 0.31, 0.32, 0.33, 0.35, 0.37, 0.39, 0.41, 0.43, 0.46, 0.48, 0.5,
           0.52, 0.55, 0.57, 0.6, 0.63, 0.66, 0.7, 0.72, 0.68, 0.62, 0.58, 0.55, 0.6, 0.52, 0.58, 0.5, 0.62, 0.5, 0.6,
           0.48, 0.62, 0.55]
E2_903 = [0.08, 0.1, 0.2, 0.12, 0.12, 0.13, 0.13, 0.14, 0.14, 0.15, 0.15, 0.15, 0.15, 0.15, 0.14, 0.15, 0.14, 0.14,
          0.14, 0.13, 0.14, 0.13, 0.13, 0.13, 0.12, 0.13, 0.12, 0.12, 0.12, 0.12, 0.11, 0.12, 0.11, 0.11, 0.11, 0.11,
          0.1, 0.11, 0.1, 0.1, 0.1, 0.1, 0.1, 0.1, 0.1, 0.1, 0.1, 0.1, 0.1, 0.1, 0.1, 0.1, 0.1, 0.1, 0.1, 0.11, 0.12,
          0.14, 0.17, 0.2, 0.24, 0.28, 0.32, 0.36, 0.4, 0.45, 0.5, 0.55, 0.6, 0.65, 0.7, 0.75, 0.8, 0.85, 0.9, 0.95,
          1.0, 1.05, 1.1, 1.15, 1.2, 1.25, 1.3, 1.5, 1.35, 1.6, 1.3, 1.45]
START_E3 = [10.0, 10.0, 10.4]
E3_907 = [0.3, 0.3, 0.3, 0.3, 0.3, 0.4, 0.8, 2.5, 6, 11, 16.5, 22, 27, 31, 34.5, 37.5, 40, 42.2, 44.2, 46, 47.6, 49,
          50.3, 51.5, 52.5, 53.2, 53.6, 53.5, 53.2, 52.7, 52, 51.2, 50.2, 49.2, 48, 46.8, 45.5, 44.2, 42.8, 41.4, 40,
          38.8, 37.6, 36.4, 35.2, 34.2, 33.2, 32.2, 31.2, 30.2, 29.3, 28.3, 27.3, 26.3, 25.4, 24.6, 23.8, 23, 22.2, 21.4,
          20.7, 20, 19.3, 18.7, 18.1, 17.5, 17, 16.5, 16, 15.5, 15.1, 14.7, 14.3, 13.9, 13.5, 13.2, 12.9, 12.6, 12.3,
          12, 11.7, 11.4, 11.1, 10.9, 10.6, 10.4, 10.2, 10, 9.8, 9.6, 9.5]
E3_921 = [0.3, 0.3, 0.3, 0.3, 0.3, 0.4, 0.8, 2.5, 6.5, 11, 15.5, 20, 24, 27.5, 30.5, 33, 35, 36.7, 38, 39.2, 40.2, 41,
          41.7, 42.2, 42.6, 42.8, 42.9, 42.8, 42.5, 42.1, 41.6, 41, 40.3, 39.5, 38.7, 37.9, 37.1, 36.3, 35.5, 34.8, 34,
          33.3, 32.6, 31.9, 31.2, 30.5, 29.8, 29.2, 28.6, 28, 27.4, 26.7, 26, 25.3, 24.6, 24, 23.4, 22.8, 22.2, 21.7,
          21.2, 20.7, 20.2, 19.7, 19.3, 18.8, 18.4, 18, 17.6, 17.2, 16.8, 16.5, 16.2, 15.9, 15.6, 15.3, 15.1, 14.8,
          14.6, 14.4, 14.2, 14, 13.8, 13.6, 13.4, 13.2, 13, 12.8, 12.6, 12.4, 12.2]
E3_919 = [0.3, 0.3, 0.3, 0.3, 0.3, 0.3, 0.3, 0.4, 0.6, 1.0, 1.6, 2.4, 3.3, 4.3, 5.3, 6.3, 7.2, 8.0, 8.7, 9.2, 9.6,
          9.9, 10.1, 10.3, 10.4, 10.5, 10.6, 10.6, 10.6, 10.6, 10.5, 10.4, 10.3, 10.2, 10.1, 10.0, 9.8, 9.7, 9.5, 9.4,
          9.2, 9.1, 8.9, 8.8, 8.6, 8.5, 8.3, 8.2, 8.0, 7.9, 7.7, 7.6, 7.5, 7.3, 7.2, 7.1, 7.0, 6.9, 6.8, 6.7, 6.6, 6.5,
          6.4, 6.4, 6.3, 6.2, 6.2, 6.1, 6.0, 6.0, 5.9, 5.8, 5.8, 5.7, 5.6, 5.6, 5.5, 5.5, 5.4, 5.4, 5.3, 5.3, 5.2, 5.2,
          5.1, 5.1, 5.0]

# y-axis tick values and tick labels per panel
YMAX = [[300, 400, 400], [4000, 4000, 9e4], [800, 800, 400], [1.5e8, 1.5e8, 3e9], [6, 8, 80]]
YTICKS = [[[0, 100, 200, 300], [0, 100, 200, 300, 400], [0, 100, 200, 300, 400]],
          [[0, 2000, 4000], [0, 1000, 2000, 3000, 4000], [0, 3e4, 6e4, 9e4]],
          [[0, 200, 400, 600, 800], [0, 200, 400, 600, 800], [0, 100, 200, 300, 400]],
          [[0, 5e7, 1e8, 1.5e8], [0, 5e7, 1e8, 1.5e8], [0, 1e9, 2e9, 3e9]],
          [[0, 2, 4, 6], [0, 2, 4, 6, 8], [0, 20, 40, 60, 80]]]
YTICKLABELS = [[['0', '100', '200', '300'], ['0', '100', '200', '300', '400'], ['0', '100', '200', '300', '400']],
               [['0.0', '2.0x10$^{3}$', '4.0x10$^{3}$'],
                ['0', '1x10$^{3}$', '2x10$^{3}$', '3x10$^{3}$', '4x10$^{3}$'],
                ['0.0', '3.0x10$^{4}$', '6.0x10$^{4}$', '9.0x10$^{4}$']],
               [['0', '200', '400', '600', '800'], ['0', '200', '400', '600', '800'], ['0', '100', '200', '300', '400']],
               [['0.0', '5.0x10$^{7}$', '1.0x10$^{8}$', '1.5x10$^{8}$'],
                ['0.0', '5.0x10$^{7}$', '1.0x10$^{8}$', '1.5x10$^{8}$'],
                ['0', '1x10$^{9}$', '2x10$^{9}$', '3x10$^{9}$']],
               [['0', '2', '4', '6'], ['0', '2', '4', '6', '8'], ['0', '20', '40', '60', '80']]]
XTICKS = [10, 12, 14, 16, 18]
XLIM = (9, 19)

# series per panel: (values, start time, unit multiplier, sampling step)
PANEL_SERIES = [
    [[(A1_927, START_A1[0], 1, STEP_FINE), (A1_1009, START_A1[1], 1, STEP_FINE)],
     [(A2_925, START_A2[0], 1, STEP), (A2_1014, START_A2[1], 1, STEP), (A2_903, START_A2[2], 1, STEP)],
     [(A3_907, START_A3[0], 1, STEP), (A3_921, START_A3[1], 1, STEP), (A3_919, START_A3[2], 1, STEP)]],
    [[(B1_927, START_B1[0], 1, STEP), (B1_1009, START_B1[1], 1, STEP)],
     [(B2_925, START_B2[0], 1, STEP), (B2_1014, START_B2[1], 1, STEP), (B2_903, START_B2[2], 1, STEP)],
     [(B3_907, START_B3[0], UNIT_B3, STEP), (B3_921, START_B3[1], UNIT_B3, STEP),
      (B3_919, START_B3[2], UNIT_B3, STEP)]],
    [[(C1_927, START_C1[0], 1, STEP_FINE), (C1_1009, START_C1[1], 1, STEP_FINE)],
     [(C2_925, START_C2[0], 1, STEP_FINE), (C2_1014, START_C2[1], 1, STEP), (C2_903, START_C2[2], 1, STEP_FINE)],
     [(C3_907, START_C3[0], 1, STEP), (C3_921, START_C3[1], 1, STEP), (C3_919, START_C3[2], 1, STEP)]],
    [[(D1_927, START_D1[0], UNIT_D12, STEP), (D1_1009, START_D1[1], UNIT_D12, STEP)],
     [(D2_925, START_D2[0], UNIT_D12, STEP), (D2_1014, START_D2[1], UNIT_D12, STEP),
      (D2_903, START_D2[2], UNIT_D12, STEP)],
     [(D3_907, START_D3[0], UNIT_D3, STEP), (D3_921, START_D3[1], UNIT_D3, STEP),
      (D3_919, START_D3[2], UNIT_D3, STEP)]],
    [[(E1_927, START_E1[0], 1, STEP), (E1_1009, START_E1[1], 1, STEP)],
     [(E2_925, START_E2[0], 1, STEP), (E2_1014, START_E2[1], 1, STEP), (E2_903, START_E2[2], 1, STEP)],
     [(E3_907, START_E3[0], 1, STEP), (E3_921, START_E3[1], 1, STEP), (E3_919, START_E3[2], 1, STEP)]],
]

# ---------------- style ----------------
sns.set_style('ticks')
plt.rcParams['font.family'] = ['Liberation Serif', 'DejaVu Serif']
plt.rcParams['font.weight'] = 'bold'
plt.rcParams['axes.labelweight'] = 'bold'
plt.rcParams['mathtext.fontset'] = 'custom'
plt.rcParams['mathtext.rm'] = 'Liberation Serif:bold'
plt.rcParams['mathtext.bf'] = 'Liberation Serif:bold'
plt.rcParams['mathtext.it'] = 'Liberation Serif:bold:italic'
plt.rcParams['mathtext.default'] = 'rm'

W, H = 4205, 4023
DPI = 300
fig = plt.figure(figsize=(W / DPI, H / DPI), dpi=DPI)
fig.patch.set_facecolor('white')

# layout in pixels
ROW_TB = [(62, 678), (858, 1476), (1654, 2272), (2441, 3060), (3232, 3849)]
COL_LR = [[(300, 1467), (1630, 2797), (2990, 4162)],
          [(300, 1467), (1622, 2797), (2990, 4162)],
          [(300, 1467), (1622, 2797), (2990, 4162)],
          [(300, 1467), (1663, 2837), (2990, 4162)],
          [(300, 1467), (1663, 2837), (2990, 4162)]]
PANEL_LABEL_POS = [[(0.985, 0.89, 'right'), (0.04, 0.85, 'left'), (0.036, 0.865, 'left')],
                   [(0.99, 0.89, 'right'), (0.016, 0.87, 'left'), (0.006, 0.855, 'left')],
                   [(0.98, 0.90, 'right'), (0.03, 0.89, 'left'), (0.02, 0.89, 'left')],
                   [(0.98, 0.91, 'right'), (0.028, 0.87, 'left'), (0.03, 0.88, 'left')],
                   [(0.99, 0.88, 'right'), (0.05, 0.85, 'left'), (0.03, 0.91, 'left')]]
LEGEND_SIZE = [[10.5, 10.5, 10.5], [10.5, 10.5, 9.6], [10.5, 10.5, 10.5], [10.5, 10.5, 10.5], [10.5, 10.5, 10.5]]

COL_TAGS = [TAGS_C1, TAGS_C2, TAGS_C3]
COL_COLORS = [COLORS_C1, COLORS_C2, COLORS_C3]
MARK_S = 22

for r in range(5):
    top, bot = ROW_TB[r]
    for c in range(3):
        left, right = COL_LR[r][c]
        ax = fig.add_axes([left / W, 1 - bot / H, (right - left) / W, (bot - top) / H])
        for k, (vals, t0, unit, dt) in enumerate(PANEL_SERIES[r][c]):
            y = np.asarray(vals, dtype=float) * unit
            t = t0 + dt * np.arange(len(y))
            sns.scatterplot(x=t, y=y, ax=ax, color=COL_COLORS[c][k], s=MARK_S, edgecolor='none',
                            linewidth=0, label=ROW_PREFIX[r] + '-' + COL_TAGS[c][k], zorder=2 + k)
        ax.set_xlim(*XLIM)
        ax.set_ylim(0, YMAX[r][c])
        ax.xaxis.set_major_locator(FixedLocator(XTICKS))
        ax.xaxis.set_minor_locator(MultipleLocator(1))
        ax.yaxis.set_major_locator(FixedLocator(YTICKS[r][c]))
        ax.yaxis.set_major_formatter(FixedFormatter(YTICKLABELS[r][c]))
        ax.yaxis.set_minor_locator(AutoMinorLocator(2))
        ax.tick_params(which='major', direction='out', length=4, width=1.8, labelsize=12,
                       top=False, right=False)
        ax.tick_params(which='minor', direction='out', length=2.5, width=1.5, top=False, right=False)
        for lab in ax.get_xticklabels() + ax.get_yticklabels():
            lab.set_fontweight('bold')
        for sp in ax.spines.values():
            sp.set_linewidth(2.0)
            sp.set_color('black')
        ax.set_xlabel('Time (h)', fontsize=12, fontweight='bold')
        if c == 0:
            ax.set_ylabel(Y_LABELS[r], fontsize=12.5, fontweight='bold')
        else:
            ax.set_ylabel('')
        loc = 'upper left' if c == 0 else 'upper right'
        fs = LEGEND_SIZE[r][c]
        ax.legend(loc=loc, frameon=False, handlelength=1.2, handletextpad=0.8,
                  labelspacing=0.25, borderaxespad=0.3, borderpad=0.3, markerscale=0.68, scatterpoints=1,
                  prop={'family': ['Liberation Serif'], 'weight': 'bold', 'size': fs})
        px, py, ha = PANEL_LABEL_POS[r][c]
        ax.text(px, py, PANEL_IDS[r][c], transform=ax.transAxes, ha=ha, va='center',
                fontsize=15, fontweight='bold', zorder=10)

fig.savefig('out.png', dpi=DPI, facecolor='white')
